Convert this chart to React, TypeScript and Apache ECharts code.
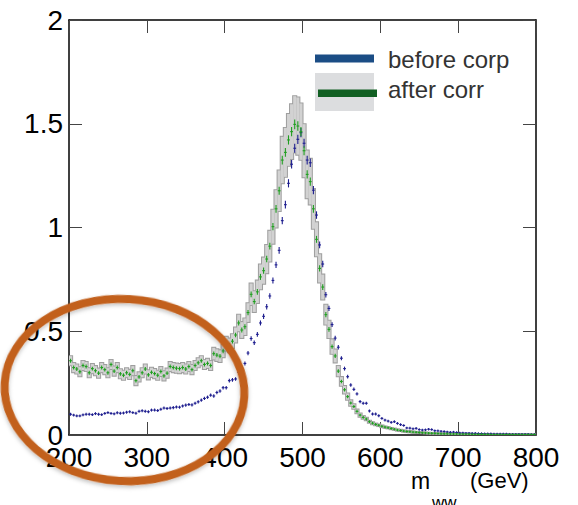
import React, { useEffect, useRef } from "react";
import * as echarts from "echarts";

// Binning: 4 GeV bins from 200 to 800 GeV
const binLow = 200;
const binWidth = 4;
const nBins = 150;
const binCenters: number[] = Array.from({ length: nBins }, (_, i) => binLow + binWidth * (i + 0.5));

// "before corp" (blue points)
const beforeCorr = [
  0.100, 0.096, 0.092, 0.092, 0.097, 0.100, 0.100, 0.098, 0.103, 0.100,
  0.098, 0.104, 0.108, 0.104, 0.102, 0.107, 0.105, 0.106, 0.110, 0.112,
  0.108, 0.105, 0.114, 0.117, 0.114, 0.112, 0.120, 0.120, 0.118, 0.124,
  0.130, 0.128, 0.130, 0.132, 0.135, 0.134, 0.140, 0.144, 0.147, 0.145,
  0.153, 0.160, 0.168, 0.176, 0.182, 0.192, 0.188, 0.205, 0.212, 0.228,
  0.228, 0.262, 0.266, 0.270, 0.302, 0.318, 0.345, 0.395, 0.465, 0.445,
  0.485, 0.540, 0.572, 0.618, 0.670, 0.745, 0.820, 0.890, 1.033, 1.110,
  1.213, 1.305, 1.382, 1.425, 1.457, 1.406, 1.325, 1.312, 1.180, 1.060,
  0.916, 0.824, 0.676, 0.610, 0.532, 0.467, 0.423, 0.370, 0.320, 0.281,
  0.241, 0.220, 0.198, 0.161, 0.153, 0.153, 0.116, 0.101, 0.101, 0.093,
  0.080, 0.072, 0.067, 0.061, 0.064, 0.056, 0.050, 0.046, 0.034, 0.033,
  0.030, 0.032, 0.026, 0.024, 0.025, 0.028, 0.026, 0.021, 0.020, 0.018,
  0.017, 0.015, 0.013, 0.014, 0.012, 0.010, 0.010, 0.009, 0.009, 0.008,
  0.008, 0.007, 0.007, 0.006, 0.006, 0.006, 0.005, 0.005, 0.005, 0.005,
  0.005, 0.004, 0.004, 0.004, 0.004, 0.004, 0.004, 0.004, 0.003, 0.003,
];

// "after corr" (green points)
const afterCorr = [
  0.358, 0.325, 0.318, 0.305, 0.335, 0.330, 0.300, 0.320, 0.310, 0.298,
  0.325, 0.315, 0.300, 0.340, 0.308, 0.325, 0.295, 0.288, 0.300, 0.292,
  0.310, 0.262, 0.280, 0.300, 0.318, 0.290, 0.302, 0.296, 0.288, 0.306,
  0.285, 0.298, 0.330, 0.325, 0.322, 0.320, 0.325, 0.318, 0.330, 0.315,
  0.335, 0.348, 0.358, 0.340, 0.345, 0.335, 0.392, 0.385, 0.380, 0.405,
  0.440, 0.432, 0.452, 0.482, 0.540, 0.506, 0.522, 0.590, 0.678, 0.643,
  0.690, 0.762, 0.792, 0.848, 0.910, 1.004, 1.090, 1.177, 1.325, 1.362,
  1.422, 1.462, 1.497, 1.489, 1.462, 1.370, 1.256, 1.221, 1.090, 0.943,
  0.803, 0.713, 0.580, 0.509, 0.426, 0.381, 0.308, 0.258, 0.218, 0.185,
  0.154, 0.137, 0.114, 0.096, 0.085, 0.077, 0.064, 0.057, 0.051, 0.047,
  0.042, 0.038, 0.035, 0.031, 0.028, 0.024, 0.022, 0.019, 0.017, 0.016,
  0.014, 0.013, 0.012, 0.011, 0.010, 0.009, 0.008, 0.008, 0.007, 0.006,
  0.006, 0.006, 0.005, 0.005, 0.005, 0.004, 0.004, 0.004, 0.004, 0.003,
  0.003, 0.003, 0.003, 0.003, 0.003, 0.002, 0.002, 0.002, 0.002, 0.002,
  0.002, 0.002, 0.002, 0.002, 0.002, 0.002, 0.002, 0.002, 0.002, 0.002,
];

// half-width of the grey uncertainty band around "after corr"
const afterCorrBand = [
  0.022, 0.022, 0.022, 0.022, 0.022, 0.022, 0.022, 0.022, 0.022, 0.022,
  0.022, 0.022, 0.022, 0.022, 0.022, 0.022, 0.022, 0.022, 0.022, 0.022,
  0.022, 0.022, 0.022, 0.022, 0.022, 0.022, 0.022, 0.022, 0.022, 0.022,
  0.022, 0.022, 0.022, 0.022, 0.022, 0.022, 0.022, 0.022, 0.022, 0.022,
  0.022, 0.022, 0.022, 0.022, 0.022, 0.022, 0.028, 0.028, 0.028, 0.030,
  0.033, 0.033, 0.034, 0.036, 0.040, 0.038, 0.040, 0.045, 0.052, 0.050,
  0.054, 0.060, 0.063, 0.068, 0.074, 0.082, 0.090, 0.098, 0.112, 0.118,
  0.125, 0.132, 0.136, 0.138, 0.136, 0.128, 0.115, 0.110, 0.096, 0.082,
  0.068, 0.060, 0.048, 0.042, 0.035, 0.031, 0.025, 0.021, 0.018, 0.015,
  0.013, 0.011, 0.009, 0.008, 0.007, 0.006, 0.005, 0.005, 0.004, 0.004,
  0.004, 0.003, 0.003, 0.003, 0.003, 0.003, 0.003, 0.003, 0.003, 0.003,
  0.003, 0.002, 0.002, 0.002, 0.002, 0.002, 0.002, 0.002, 0.002, 0.002,
  0.002, 0.002, 0.002, 0.002, 0.002, 0.002, 0.002, 0.002, 0.002, 0.002,
  0.002, 0.001, 0.001, 0.001, 0.001, 0.001, 0.001, 0.001, 0.001, 0.001,
  0.001, 0.001, 0.001, 0.001, 0.001, 0.001, 0.001, 0.001, 0.001, 0.001,
];

const xTicks = [200, 300, 400, 500, 600, 700, 800];
const yTicks = [0, 0.5, 1, 1.5, 2];
const legendLabels = ["before corp", "after corr"];

const FONT = "'Liberation Sans', Arial, Helvetica, sans-serif";
const BLUE = "#1c1c8e";
const GREEN = "#1f9e1f";

export default function App() {
  const ref = useRef<HTMLDivElement>(null);

  useEffect(() => {
    if (!ref.current) return;
    const chart = echarts.init(ref.current, undefined, { renderer: "svg" });

    const bandData = binCenters.map((e, i) => [e, afterCorr[i], afterCorrBand[i]]);
    const blueData = binCenters.map((e, i) => [e, beforeCorr[i]]);
    const greenData = binCenters.map((e, i) => [e, afterCorr[i]]);

    const bandRender = (fill: boolean) => (params: any, api: any) => {
      const x = api.value(0);
      const y = api.value(1);
      const err = api.value(2);
      const p0 = api.coord([x - binWidth / 2, y + err]);
      const p1 = api.coord([x + binWidth / 2, y - err]);
      return {
        type: "rect",
        shape: { x: p0[0], y: p0[1], width: p1[0] - p0[0], height: p1[1] - p0[1] },
        style: fill
          ? { fill: "#d2d2d2", stroke: null }
          : { fill: "none", stroke: "#9e9e9e", lineWidth: 2 },
      };
    };

    const crossRender = (color: string) => (params: any, api: any) => {
      const x = api.value(0);
      const y = api.value(1);
      const c = api.coord([x, y]);
      const l = api.coord([x - binWidth * 0.45, y]);
      const r = api.coord([x + binWidth * 0.45, y]);
      const hv = 1.2 + 2.4 * y;
      return {
        type: "group",
        children: [
          { type: "line", shape: { x1: l[0], y1: c[1], x2: r[0], y2: c[1] }, style: { stroke: color, lineWidth: 1.1 } },
          { type: "line", shape: { x1: c[0], y1: c[1] - hv, x2: c[0], y2: c[1] + hv }, style: { stroke: color, lineWidth: 1.1 } },
        ],
      };
    };

    const axisCommon = {
      axisLine: { show: true, onZero: false, lineStyle: { color: "#000", width: 1.5 } },
      axisTick: { show: true, inside: true, length: 13, lineStyle: { color: "#444", width: 1 } },
      splitLine: { show: false },
    };

    const option: any = {
      animation: false,
      backgroundColor: "#fff",
      grid: { left: 69, right: 42, top: 20, bottom: 70, containLabel: false },
      xAxis: [
        {
          type: "value", min: xTicks[0], max: xTicks[xTicks.length - 1], interval: 100, position: "bottom",
          ...axisCommon,
          axisLabel: { fontSize: 28, color: "#000", fontFamily: FONT, margin: 8, showMinLabel: true, showMaxLabel: true },
        },
        {
          type: "value", min: xTicks[0], max: xTicks[xTicks.length - 1], interval: 100, position: "top",
          ...axisCommon, axisLabel: { show: false },
        },
      ],
      yAxis: [
        {
          type: "value", min: yTicks[0], max: yTicks[yTicks.length - 1], interval: 0.5, position: "left",
          ...axisCommon,
          axisLabel: { fontSize: 28, color: "#000", fontFamily: FONT, margin: 6 },
        },
        {
          type: "value", min: yTicks[0], max: yTicks[yTicks.length - 1], interval: 0.5, position: "right",
          ...axisCommon, axisLabel: { show: false },
        },
      ],
      series: [
        { type: "custom", name: "band-outline", renderItem: bandRender(false), data: bandData, clip: true, z: 1 },
        { type: "custom", name: "band-fill", renderItem: bandRender(true), data: bandData, clip: true, z: 2 },
        { type: "custom", name: legendLabels[0], renderItem: crossRender(BLUE), data: blueData, clip: true, z: 3 },
        { type: "custom", name: legendLabels[1], renderItem: crossRender(GREEN), data: greenData, clip: true, z: 4 },
      ],
      graphic: [
        { type: "rect", shape: { x: 315, y: 54.5, width: 59, height: 8 }, style: { fill: "#1b4d85" }, z: 50 },
        { type: "rect", shape: { x: 315, y: 73, width: 59, height: 38 }, style: { fill: "#dcdddf" }, z: 50 },
        { type: "rect", shape: { x: 318, y: 89.5, width: 59, height: 7.5 }, style: { fill: "#115f22" }, z: 51 },
        { type: "text", x: 388, y: 59, style: { text: legendLabels[0], font: `24px ${FONT}`, fill: "#333", verticalAlign: "middle" }, z: 51 },
        { type: "text", x: 388, y: 89.5, style: { text: legendLabels[1], font: `24px ${FONT}`, fill: "#333", verticalAlign: "middle" }, z: 51 },
        { type: "text", x: 411, y: 481, style: { text: "m", font: `23px ${FONT}`, fill: "#000", verticalAlign: "middle" }, z: 51 },
        { type: "text", x: 432, y: 502, style: { text: "ww", font: `17px ${FONT}`, fill: "#000", verticalAlign: "middle" }, z: 51 },
        { type: "text", x: 470, y: 480, style: { text: "(GeV)", font: `22px ${FONT}`, fill: "#000", verticalAlign: "middle" }, z: 51 },
        {
          type: "ellipse", x: 124.5, y: 390, rotation: -0.06,
          shape: { cx: 0, cy: 0, rx: 120, ry: 91 },
          style: { fill: "none", stroke: "#c2601c", lineWidth: 8, shadowBlur: 4, shadowColor: "rgba(0,0,0,0.25)", shadowOffsetY: 2 },
          z: 100,
        },
      ],
    };

    chart.setOption(option);
    return () => chart.dispose();
  }, []);

  return <div ref={ref} style={{ position: "absolute", left: 0, top: 0, width: 578, height: 505 }} />;
}
